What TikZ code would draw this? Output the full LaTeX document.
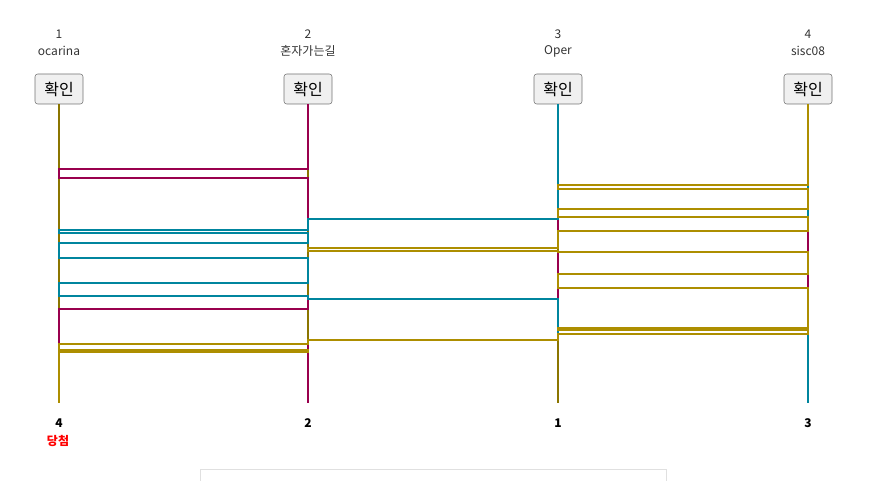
\documentclass[tikz,border=0pt]{standalone}
\usepackage{fontspec}
\setmainfont{Noto Sans CJK KR}
\definecolor{pone}{RGB}{139,117,0}
\definecolor{ptwo}{RGB}{153,0,77}
\definecolor{pthree}{RGB}{0,133,158}
\definecolor{pfour}{RGB}{173,142,0}
\begin{document}
\begin{tikzpicture}[
  x=0.75pt, y=-0.75pt,
  font=\fontsize{9}{11}\selectfont,
  btn/.style={draw=black!55, fill=black!6, rounded corners=2pt, minimum width=36pt, minimum height=22.5pt, inner sep=0pt, font=\fontsize{12}{14}\selectfont},
  leg/.style={line width=1.5pt}
]
  \useasboundingbox (0,0) rectangle (884,481);
  % players, buttons and results
  \foreach \i/\x/\nm/\res in {1/59/ocarina/4, 2/308/혼자가는길/2, 3/558/Oper/1, 4/808/sisc08/3} {
    \node[text=black!80] (num\i) at (\x,34) {\i};
    \node[text=black!80] (name\i) at (\x,51) {\nm};
    \node[btn] (btn\i) at (\x,89) {확인};
    \coordinate (bot\i) at (\x,403);
    \node[font=\fontsize{9}{11}\selectfont\bfseries] (res\i) at (\x,423) {\res};
  }
  \node[text=red, font=\fontsize{9}{11}\selectfont\bfseries] (win) at (58,441) {당첨};
  % ladder paths
  \draw[leg, pone] (btn1.south) \foreach \c/\y in {1/169,2/169,2/178,1/178,1/230,2/230,2/233,1/233,1/243,2/243,2/248,3/248,3/251,2/251,2/258,1/258,1/283,2/283,2/296,1/296,1/309,2/309,2/340,3/340} {-- (btn\c.south |- 0,\y)} -- (bot3);
  \draw[leg, ptwo] (btn2.south) \foreach \c/\y in {2/169,1/169,1/178,2/178,2/219,3/219,3/231,4/231,4/252,3/252,3/274,4/274,4/288,3/288,3/299,2/299,2/309,1/309,1/344,2/344,2/350,1/350,1/352,2/352} {-- (btn\c.south |- 0,\y)} -- (bot2);
  \draw[leg, pthree] (btn3.south) \foreach \c/\y in {3/185,4/185,4/189,3/189,3/209,4/209,4/217,3/217,3/219,2/219,2/230,1/230,1/233,2/233,2/243,1/243,1/258,2/258,2/283,1/283,1/296,2/296,2/299,3/299,3/328,4/328,4/330,3/330,3/334,4/334} {-- (btn\c.south |- 0,\y)} -- (bot4);
  \draw[leg, pfour] (btn4.south) \foreach \c/\y in {4/185,3/185,3/189,4/189,4/209,3/209,3/217,4/217,4/231,3/231,3/248,2/248,2/251,3/251,3/252,4/252,4/274,3/274,3/288,4/288,4/328,3/328,3/330,4/330,4/334,3/334,3/340,2/340,2/344,1/344,1/350,2/350,2/352,1/352} {-- (btn\c.south |- 0,\y)} -- (bot1);
  % box below
  \draw[black!12] (200,481) -- (200,469) -- (666,469) -- (666,481);
\end{tikzpicture}
\end{document}
